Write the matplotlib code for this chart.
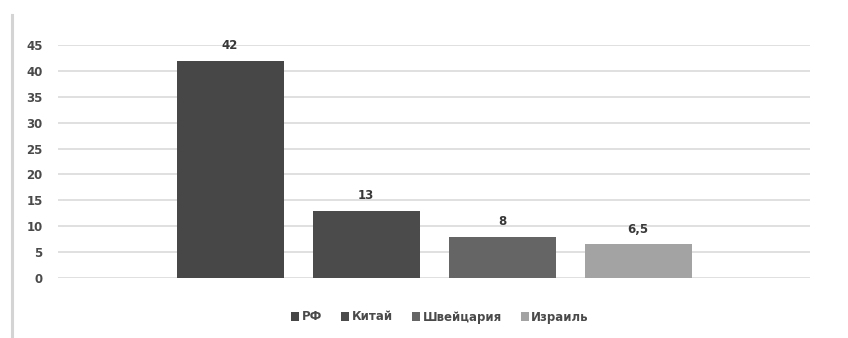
import matplotlib
matplotlib.use("Agg")
import matplotlib.pyplot as plt
from matplotlib.lines import Line2D
from matplotlib.patches import Patch

plt.rcParams['font.family'] = ['DejaVu Sans']

# Data
countries = ["РФ", "Китай", "Швейцария", "Израиль"]
values = [42, 13, 8, 6.5]
value_labels = ["42", "13", "8", "6,5"]
colors = ["#474747", "#4b4b4b", "#656565", "#a3a3a3"]
yticks = [0, 5, 10, 15, 20, 25, 30, 35, 40, 45]

W, H = 848, 338
fig = plt.figure(figsize=(W / 100, H / 100), dpi=100)
fig.patch.set_facecolor("white")

ax = fig.add_axes([58 / W, (H - 278) / H, (810 - 58) / W, (278 - 45) / H])

bar_width = 107 / 136
positions = list(range(len(countries)))
half_span = (810 - 58) / 136 / 2
center = 1.5
ax.set_xlim(center - half_span, center + half_span)
ax.set_ylim(0, 45)

ax.bar(positions, values, width=bar_width, color=colors, zorder=3)

for x, v, lbl in zip(positions, values, value_labels):
    ax.annotate(lbl, (x, v), xytext=(0, 11), textcoords="offset points",
                ha="center", va="center", fontsize=8.5, fontweight="bold",
                color="#383838")

ax.set_yticks(yticks)
ax.set_yticklabels([str(t) for t in yticks], fontsize=8.5, fontweight="bold",
                   color="#4a4a4a")
ax.set_xticks([])
ax.tick_params(axis="y", length=0, pad=11)
ax.yaxis.grid(True, color="#dddddd", linewidth=1.3, zorder=0)
for s in ax.spines.values():
    s.set_visible(False)

# Legend
handles = [Patch(facecolor=c, edgecolor="none") for c in colors]
fig.legend(handles, countries, loc="center", bbox_to_anchor=(440 / W, 1 - 317 / H),
           ncol=4, frameon=False, handlelength=0.7, handleheight=0.7,
           handletextpad=0.2, columnspacing=1.6,
           prop={"size": 8.5, "weight": "bold"}, labelcolor="#4a4a4a")

# Left border line of the chart area
fig.add_artist(Line2D([11.5 / W, 11.5 / W], [0, 1 - 15 / H],
                      transform=fig.transFigure, color="#d4d4d4", linewidth=2.2))

fig.savefig("out.png", dpi=100, facecolor="white")
